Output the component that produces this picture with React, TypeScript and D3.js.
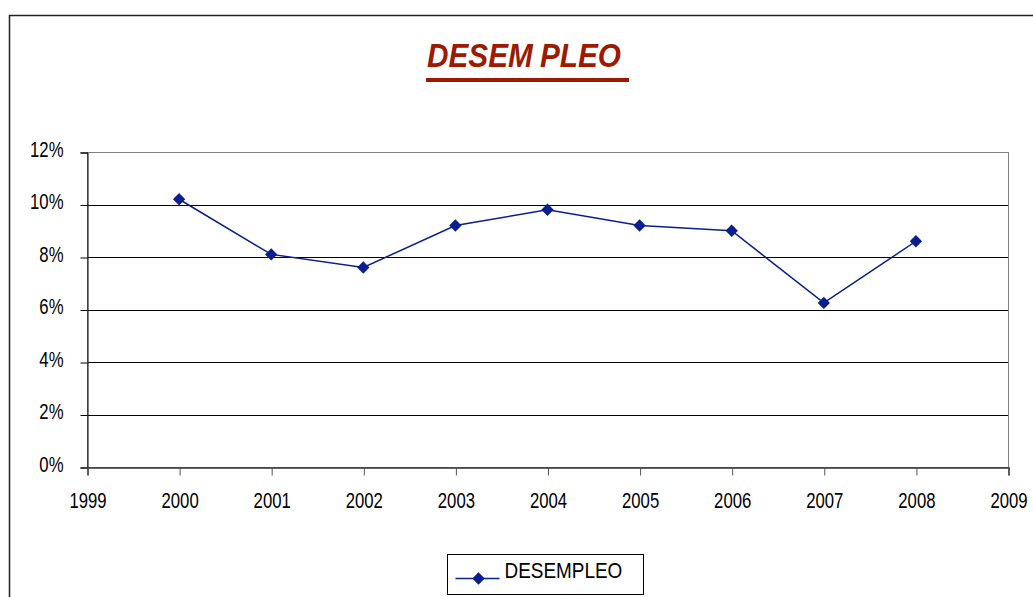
import React, { useEffect, useRef } from 'react';
import * as d3 from 'd3';

const width = 1033;
const height = 597;
const margin = { top: 152, right: 25, bottom: 130, left: 87 };

const years = [2000, 2001, 2002, 2003, 2004, 2005, 2006, 2007, 2008];
const desempleo = [10.2, 8.1, 7.6, 9.2, 9.8, 9.2, 9.0, 6.25, 8.6];
const yTicks = [0, 2, 4, 6, 8, 10, 12];
const xTicks = [1999, 2000, 2001, 2002, 2003, 2004, 2005, 2006, 2007, 2008, 2009];

const titleParts = ['DESEM', 'PLEO'];
const seriesName = 'DESEMPLEO';

const font = '"Liberation Sans", Arial, sans-serif';
const lineColor = '#0a1f8f';
const titleColor = '#9c1a00';

// squeeze text horizontally to mimic the narrow font of the original
const squeeze = (sel: any, k: number) => {
  sel.each(function (this: SVGTextElement) {
    const w = this.getComputedTextLength();
    d3.select(this).attr('textLength', w * k).attr('lengthAdjust', 'spacingAndGlyphs');
  });
};

const App = () => {
  const svgRef = useRef<SVGSVGElement>(null);

  useEffect(() => {
    const svg = d3.select(svgRef.current);
    svg.selectAll('*').remove();

    // outer chart frame (runs off the right and bottom edges)
    svg.append('rect')
      .attr('x', 9.5).attr('y', 15.5)
      .attr('width', 1100).attr('height', 700)
      .attr('fill', '#fff')
      .attr('stroke', '#222').attr('stroke-width', 1.5);

    const x = d3.scaleLinear().domain([1999, 2009]).range([margin.left, width - margin.right]);
    const y = d3.scaleLinear().domain([0, 12]).range([height - margin.bottom, margin.top]);

    // title
    const t = svg.append('text')
      .attr('x', 427).attr('y', 67)
      .attr('font-family', font)
      .attr('font-size', 33)
      .attr('font-weight', 'bold')
      .attr('font-style', 'italic')
      .attr('fill', titleColor);
    t.append('tspan').text(titleParts[0]);
    t.append('tspan').attr('dx', 8).text(titleParts[1]);
    t.attr('textLength', 194).attr('lengthAdjust', 'spacingAndGlyphs');
    svg.append('rect')
      .attr('x', 426).attr('y', 78)
      .attr('width', 203).attr('height', 4)
      .attr('fill', titleColor);

    // gridlines
    svg.append('g')
      .selectAll('line')
      .data(yTicks.filter(d => d > 0 && d < 12))
      .join('line')
      .attr('x1', x(1999)).attr('x2', x(2009))
      .attr('y1', d => Math.round(y(d)) + 0.5).attr('y2', d => Math.round(y(d)) + 0.5)
      .attr('stroke', '#000').attr('stroke-width', 1);

    // plot area border (grey)
    svg.append('rect')
      .attr('x', x(1999) + 0.5).attr('y', Math.round(y(12)) + 0.5)
      .attr('width', x(2009) - x(1999)).attr('height', y(0) - y(12))
      .attr('fill', 'none')
      .attr('stroke', '#808080');

    // y axis
    const yAxis = svg.append('g')
      .attr('transform', `translate(${x(1999) + 0.5},0.5)`)
      .call(d3.axisLeft(y).tickValues(yTicks).tickSize(7).tickPadding(17).tickFormat(d => `${d}%`));
    yAxis.select('.domain').attr('stroke', '#000');
    yAxis.selectAll('line').attr('stroke', '#000');
    const yText = yAxis.selectAll('text')
      .attr('font-family', font).attr('font-size', 22).attr('fill', '#000')
      .attr('y', -3.5);
    squeeze(yText, 0.76);

    // x axis
    const xAxis = svg.append('g')
      .attr('transform', `translate(0.5,${Math.round(y(0)) + 0.5})`)
      .call(d3.axisBottom(x).tickValues(xTicks).tickSize(8).tickPadding(17).tickFormat(d3.format('d')));
    xAxis.select('.domain').attr('stroke', '#333').attr('stroke-width', 1.5);
    xAxis.selectAll('line').attr('stroke', '#555');
    const xText = xAxis.selectAll('text')
      .attr('font-family', font).attr('font-size', 22).attr('fill', '#000');
    squeeze(xText, 0.76);

    // series
    const pts = years.map((yr, i) => ({ yr, v: desempleo[i] }));
    const line = d3.line<{ yr: number; v: number }>()
      .x(d => x(d.yr))
      .y(d => y(d.v));

    svg.append('path')
      .datum(pts)
      .attr('fill', 'none')
      .attr('stroke', lineColor)
      .attr('stroke-width', 1.5)
      .attr('d', line);

    const marker = d3.symbol().type(d3.symbolSquare).size(76);
    svg.append('g')
      .selectAll('path')
      .data(pts)
      .join('path')
      .attr('transform', d => `translate(${x(d.yr)},${y(d.v)}) rotate(45)`)
      .attr('d', marker)
      .attr('fill', lineColor);

    // legend
    const lg = svg.append('g').attr('transform', 'translate(447.5,554.5)');
    lg.append('rect')
      .attr('width', 196).attr('height', 40)
      .attr('fill', '#fff')
      .attr('stroke', '#000');
    lg.append('line')
      .attr('x1', 8).attr('x2', 52).attr('y1', 24).attr('y2', 24)
      .attr('stroke', lineColor).attr('stroke-width', 1.5);
    lg.append('path')
      .attr('transform', 'translate(31,24) rotate(45)')
      .attr('d', marker)
      .attr('fill', lineColor);
    const lt = lg.append('text')
      .attr('x', 57).attr('y', 23)
      .attr('font-family', font).attr('font-size', 22)
      .text(seriesName);
    squeeze(lt, 0.86);
  }, []);

  return (
    <svg ref={svgRef} width={width} height={height}
      style={{ position: 'absolute', left: 0, top: 0, display: 'block' }} />
  );
};

export default App;
